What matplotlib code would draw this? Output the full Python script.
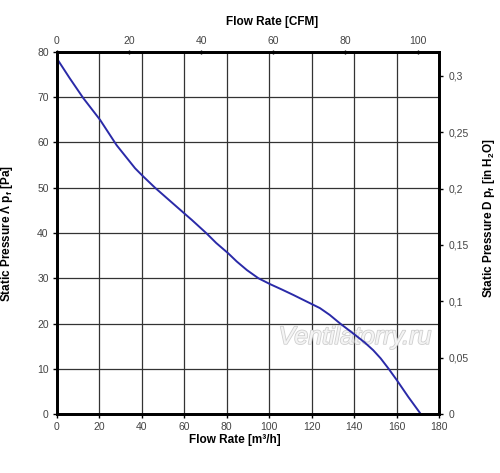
import matplotlib
matplotlib.use("Agg")
import matplotlib.pyplot as plt
import matplotlib.patheffects as pe

plt.rcParams['font.family'] = ['Liberation Sans', 'DejaVu Sans']

# Data (flow m3/h, static pressure Pa)
flow_m3h = [0.3, 6, 12.4, 20.3, 28.1, 36.8, 40.4, 46.2, 53, 60.3, 63.5, 70.5, 75,
            80.7, 84.7, 89.5, 94.9, 100.4, 106, 111.4, 117, 123.9, 128.5, 133.4,
            140.4, 145, 149.0, 152.5, 156.1, 160.1, 165.5, 171.4]
pressure_pa = [78.3, 74.2, 69.8, 65.0, 59.4, 54.3, 52.6, 50.0, 47.2, 44.2, 42.9, 39.9, 37.8,
               35.5, 33.7, 31.8, 30.0, 28.7, 27.5, 26.3, 25.0, 23.4, 21.9, 20.0,
               17.5, 15.8, 14.1, 12.3, 10.1, 7.5, 3.8, 0.0]

bottom_ticks = [0, 20, 40, 60, 80, 100, 120, 140, 160, 180]
left_ticks = [0, 10, 20, 30, 40, 50, 60, 70, 80]
top_ticks = [0, 20, 40, 60, 80, 100]
right_ticks = [0, 0.05, 0.1, 0.15, 0.2, 0.25, 0.3]
right_labels = ["0", "0,05", "0,1", "0,15", "0,2", "0,25", "0,3"]

M3H_PER_CFM = 1.699
PA_PER_INH2O = 249.09

fig = plt.figure(figsize=(5.0, 4.73), dpi=100)
ax = fig.add_axes([57/500, 59/473, 382/500, 362/473])

ax.plot(flow_m3h, pressure_pa, color='#2a2aa8', lw=1.4, zorder=3)
ax.set_xlim(0, 180)
ax.set_ylim(0, 80)
ax.set_xticks(bottom_ticks)
ax.set_yticks(left_ticks)
ax.grid(True, color='#333333', lw=0.9)
ax.tick_params(axis='both', labelsize=7.5, labelcolor='#444444', length=3,
               width=1.0, color='black', direction='out', pad=3)
for s in ax.spines.values():
    s.set_linewidth(1.8)
    s.set_color('black')

ax.set_xlabel("Flow Rate [m³/h]", fontsize=8.5, fontweight='bold', labelpad=1)
ax.xaxis.set_label_coords(0.466, -0.055)
ax.set_ylabel("Static Pressure Λ p$_\\mathregular{f}$ [Pa]", fontsize=8.5, fontweight='bold')
ax.yaxis.set_label_coords(-0.109, 0.5)

# top axis (CFM)
axt = ax.twiny()
axt.set_xlim(0, 180 / M3H_PER_CFM)
axt.set_xticks(top_ticks)
axt.tick_params(axis='x', labelsize=7.5, labelcolor='#444444', length=3, width=1.0,
                direction='inout', pad=3)
axt.set_xlabel("Flow Rate [CFM]", fontsize=8.5, fontweight='bold')
axt.xaxis.set_label_coords(0.563, 1.075)

# right axis (in H2O)
axr = ax.twinx()
axr.set_ylim(0, 80 / PA_PER_INH2O)
axr.set_yticks(right_ticks)
axr.set_yticklabels(right_labels)
axr.tick_params(axis='y', labelsize=7.5, labelcolor='#444444', length=3, width=1.0,
                direction='out', pad=4)
axr.set_ylabel("Static Pressure D p$_\\mathregular{f}$ [in H$_\\mathregular{2}$O]",
               fontsize=8.5, fontweight='bold')
axr.yaxis.set_label_coords(1.11, 0.54)
for a in (axt, axr):
    for s in a.spines.values():
        s.set_linewidth(1.8)

# watermark
ax.text(0.78, 0.213, "Ventilatorry.ru", transform=ax.transAxes, fontsize=18,
        style='italic', color='#f4f4f4', ha='center', va='center', zorder=2,
        family=['Liberation Sans', 'DejaVu Sans'],
        path_effects=[pe.withStroke(linewidth=1.2, foreground='#cfcfcf')])

fig.savefig("out.png", dpi=100)
